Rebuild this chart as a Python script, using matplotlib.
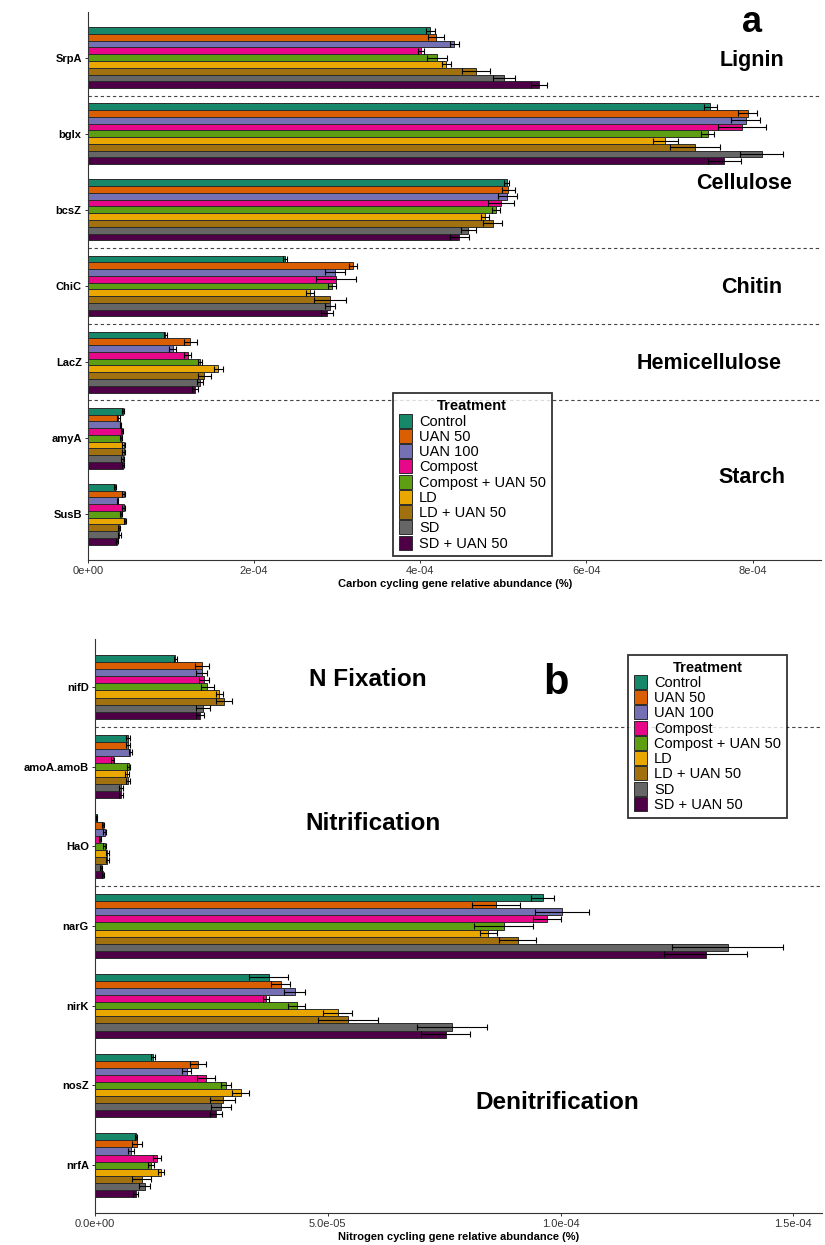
import matplotlib.pyplot as plt
import numpy as np
from matplotlib.patches import Patch

treatments = ['Control', 'UAN 50', 'UAN 100', 'Compost', 'Compost + UAN 50',
              'LD', 'LD + UAN 50', 'SD', 'SD + UAN 50']
colors = ['#17876A', '#D95F02', '#7570B3', '#E7088A', '#5E9E12',
          '#EAA700', '#A1700F', '#666666', '#4D0045']

# carbon cycling genes (rows) x treatments (columns)
carbon_genes = ['SrpA', 'bglx', 'bcsZ', 'ChiC', 'LacZ', 'amyA', 'SusB']
carbon_mean = [
    [4.12e-4, 4.19e-4, 4.41e-4, 4.01e-4, 4.20e-4, 4.31e-4, 4.67e-4, 5.01e-4, 5.43e-4],
    [7.49e-4, 7.94e-4, 7.92e-4, 7.87e-4, 7.46e-4, 6.95e-4, 7.31e-4, 8.11e-4, 7.66e-4],
    [5.04e-4, 5.06e-4, 5.05e-4, 4.97e-4, 4.91e-4, 4.78e-4, 4.87e-4, 4.58e-4, 4.47e-4],
    [2.37e-4, 3.19e-4, 2.97e-4, 2.99e-4, 2.94e-4, 2.67e-4, 2.91e-4, 2.91e-4, 2.88e-4],
    [0.93e-4, 1.23e-4, 1.02e-4, 1.20e-4, 1.35e-4, 1.57e-4, 1.40e-4, 1.35e-4, 1.29e-4],
    [4.20e-5, 3.65e-5, 3.90e-5, 4.12e-5, 3.95e-5, 4.29e-5, 4.29e-5, 4.16e-5, 4.20e-5],
    [3.22e-5, 4.33e-5, 3.56e-5, 4.33e-5, 3.95e-5, 4.46e-5, 3.73e-5, 3.78e-5, 3.52e-5],
]
carbon_se = [
    [5.6e-6, 1.0e-5, 5.7e-6, 3.8e-6, 1.2e-5, 5.4e-6, 1.65e-5, 1.36e-5, 1.0e-5],
    [7.9e-6, 1.17e-5, 1.74e-5, 2.9e-5, 7.6e-6, 1.5e-5, 3.0e-5, 2.6e-5, 2.0e-5],
    [2.9e-6, 7.9e-6, 1.17e-5, 1.6e-5, 5.0e-6, 5.0e-6, 1.2e-5, 9.0e-6, 1.14e-5],
    [2.5e-6, 5.0e-6, 1.2e-5, 2.4e-5, 4.7e-6, 4.7e-6, 1.93e-5, 6.3e-6, 7.0e-6],
    [2.0e-6, 8.0e-6, 4.4e-6, 4.0e-6, 2.0e-6, 5.2e-6, 8.0e-6, 4.0e-6, 3.8e-6],
    [0.8e-6, 1.5e-6, 1.0e-6, 1.5e-6, 1.2e-6, 1.5e-6, 1.5e-6, 1.5e-6, 1.0e-6],
    [1.5e-6, 1.8e-6, 1.0e-6, 1.8e-6, 1.2e-6, 1.5e-6, 1.2e-6, 1.5e-6, 1.0e-6],
]

# nitrogen cycling genes (rows) x treatments (columns)
nitrogen_genes = ['nifD', 'amoA.amoB', 'HaO', 'narG', 'nirK', 'nosZ', 'nrfA']
nitrogen_mean = [
    [1.72e-5, 2.29e-5, 2.29e-5, 2.34e-5, 2.41e-5, 2.67e-5, 2.77e-5, 2.32e-5, 2.26e-5],
    [7.1e-6, 7.1e-6, 7.6e-6, 3.8e-6, 7.2e-6, 6.8e-6, 7.1e-6, 5.5e-6, 5.6e-6],
    [0.4e-6, 1.7e-6, 2.1e-6, 1.1e-6, 2.1e-6, 2.6e-6, 2.6e-6, 1.2e-6, 1.7e-6],
    [9.62e-5, 8.61e-5, 1.003e-4, 9.71e-5, 8.78e-5, 8.45e-5, 9.08e-5, 1.359e-4, 1.312e-4],
    [3.73e-5, 3.99e-5, 4.29e-5, 3.67e-5, 4.33e-5, 5.21e-5, 5.44e-5, 7.66e-5, 7.53e-5],
    [1.24e-5, 2.21e-5, 1.97e-5, 2.38e-5, 2.81e-5, 3.13e-5, 2.74e-5, 2.70e-5, 2.60e-5],
    [8.8e-6, 9.0e-6, 7.7e-6, 1.33e-5, 1.20e-5, 1.42e-5, 1.00e-5, 1.07e-5, 8.7e-6],
]
nitrogen_se = [
    [0.3e-6, 1.5e-6, 1.2e-6, 1.1e-6, 1.4e-6, 0.8e-6, 1.7e-6, 1.5e-6, 0.85e-6],
    [0.4e-6, 0.4e-6, 0.4e-6, 0.3e-6, 0.4e-6, 0.4e-6, 0.5e-6, 0.4e-6, 0.4e-6],
    [0.1e-6, 0.3e-6, 0.3e-6, 0.2e-6, 0.3e-6, 0.3e-6, 0.3e-6, 0.2e-6, 0.2e-6],
    [2.5e-6, 5.1e-6, 5.8e-6, 3.1e-6, 6.3e-6, 1.9e-6, 4.0e-6, 1.19e-5, 8.9e-6],
    [4.2e-6, 2.0e-6, 2.3e-6, 0.7e-6, 1.75e-6, 3.1e-6, 6.4e-6, 7.5e-6, 5.3e-6],
    [0.4e-6, 1.7e-6, 1.0e-6, 1.9e-6, 1.0e-6, 1.8e-6, 2.7e-6, 2.1e-6, 1.3e-6],
    [0.2e-6, 1.0e-6, 0.6e-6, 0.9e-6, 0.6e-6, 0.7e-6, 2.1e-6, 1.2e-6, 0.6e-6],
]

plt.rcParams['font.family'] = ['Liberation Sans', 'DejaVu Sans']
sans = ['Liberation Sans', 'DejaVu Sans']

fig = plt.figure(figsize=(8.25, 12.45), dpi=100)
ax_c = fig.add_axes([0.1067, 0.5502, 0.889, 0.4402])
ax_n = fig.add_axes([0.1152, 0.0257, 0.8808, 0.4610])


def draw_panel(ax, genes, mean, se, xmax, xticks, xticklabels, xlabel, dividers):
    n = len(treatments)
    h = 0.8 / n
    y = np.arange(len(genes))
    mean = np.array(mean)
    se = np.array(se)
    for j in range(n):
        yy = y + (j - (n - 1) / 2) * h
        ax.barh(yy, mean[:, j], height=h, color=colors[j],
                edgecolor='#2b2b2b', linewidth=0.7, zorder=2)
        ax.errorbar(mean[:, j], yy, xerr=se[:, j], fmt='none', ecolor='black',
                    elinewidth=0.8, capsize=2, capthick=0.8, zorder=3)
    for d in dividers:
        ax.axhline(d, color='#444444', linestyle=(0, (3, 2.5)), linewidth=0.8, zorder=1)
    ax.set_ylim(len(genes) - 0.4, -0.6)
    ax.set_xlim(0, xmax)
    ax.set_yticks(y)
    ax.set_yticklabels(genes, fontsize=8, fontweight='bold')
    ax.set_xticks(xticks)
    ax.set_xticklabels(xticklabels, fontsize=8, color='#333333')
    ax.set_xlabel(xlabel, fontsize=8, fontweight='bold', labelpad=2)
    ax.tick_params(length=2.5, width=0.7, color='#333333', pad=2)
    for s in ['top', 'right']:
        ax.spines[s].set_visible(False)
    for s in ['left', 'bottom']:
        ax.spines[s].set_color('#333333')
        ax.spines[s].set_linewidth(0.8)


draw_panel(ax_c, carbon_genes, carbon_mean, carbon_se, 8.83e-4,
           [0, 2e-4, 4e-4, 6e-4, 8e-4],
           ['0e+00', '2e-04', '4e-04', '6e-04', '8e-04'],
           'Carbon cycling gene relative abundance (%)', [0.5, 2.5, 3.5, 4.5])
draw_panel(ax_n, nitrogen_genes, nitrogen_mean, nitrogen_se, 1.561e-4,
           [0, 5e-5, 1e-4, 1.5e-4],
           ['0.0e+00', '5.0e-05', '1.0e-04', '1.5e-04'],
           'Nitrogen cycling gene relative abundance (%)', [0.5, 2.5])

# pathway labels
lab = dict(ha='center', va='center', fontweight='bold', zorder=5)
ax_c.text(7.99e-4, -0.46, 'a', fontsize=26, **lab)
ax_c.text(7.99e-4, 0.04, 'Lignin', fontsize=15.5, **lab)
ax_c.text(7.90e-4, 1.65, 'Cellulose', fontsize=15.5, **lab)
ax_c.text(7.99e-4, 3.02, 'Chitin', fontsize=15.5, **lab)
ax_c.text(7.48e-4, 4.02, 'Hemicellulose', fontsize=15.5, **lab)
ax_c.text(7.99e-4, 5.52, 'Starch', fontsize=15.5, **lab)

ax_n.text(5.87e-5, -0.09, 'N Fixation', fontsize=17.5, **lab)
ax_n.text(9.9e-5, -0.05, 'b', fontsize=30, **lab)
ax_n.text(5.97e-5, 1.71, 'Nitrification', fontsize=17.5, **lab)
ax_n.text(9.92e-5, 5.22, 'Denitrification', fontsize=17.5, **lab)

handles = [Patch(facecolor=c, edgecolor='#2b2b2b', linewidth=0.7) for c in colors]
for ax, anchor in [(ax_c, (0.476, 0.684)), (ax_n, (0.761, 0.474))]:
    leg = ax.legend(handles, treatments, title='Treatment', loc='upper left',
                    bbox_to_anchor=anchor, bbox_transform=fig.transFigure,
                    prop={'family': sans, 'size': 10.5}, frameon=True,
                    fancybox=False, edgecolor='black', labelspacing=0.02,
                    handlelength=0.9, handleheight=1.1, handletextpad=0.5,
                    borderpad=0.4, borderaxespad=0)
    leg.get_title().set_fontweight('bold')
    leg.get_title().set_fontsize(10.5)
    leg.get_frame().set_linewidth(1.3)
    leg.set_zorder(6)

fig.savefig('out.png', dpi=100)
